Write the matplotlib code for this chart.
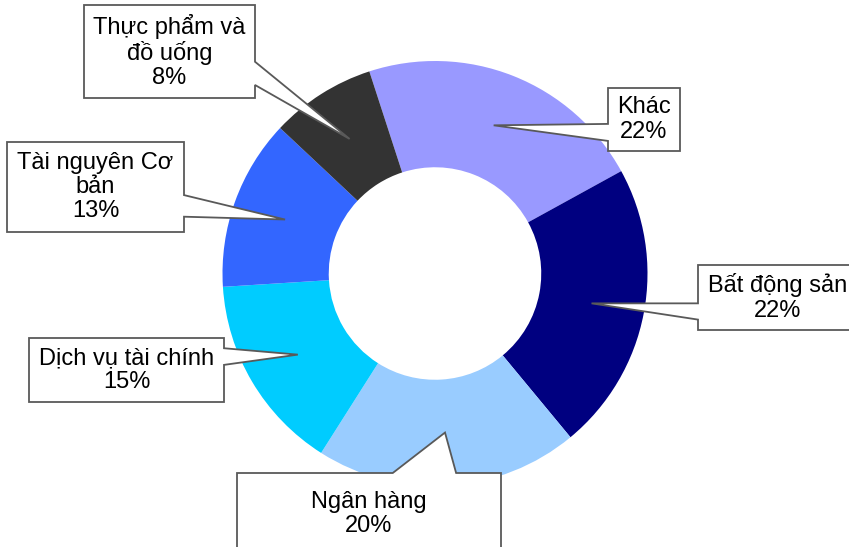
import matplotlib.pyplot as plt
import numpy as np
from matplotlib.patches import Polygon

plt.rcParams["font.family"] = ["Liberation Sans", "DejaVu Sans"]

# data
sectors = ["Khác", "Bất động sản", "Ngân hàng", "Dịch vụ tài chính",
           "Tài nguyên Cơ\nbản", "Thực phẩm và\nđồ uống"]
shares = [22, 22, 20, 15, 13, 8]
colors = ["#9999FF", "#000080", "#99CCFF", "#00CCFF", "#3366FF", "#333333"]

# layout in pixels: pie centre/radius, callout boxes (left, top, right, bottom),
# side the pointer leaves from and where along that side (fractions)
W, H = 849, 547
CX, CY, R = 435, 273.5, 212.5
boxes = [(608, 88, 680, 151), (698, 265, 856, 330), (237, 473, 501, 560),
         (29, 338, 224, 402), (7, 142, 184, 232), (84, 5, 255, 98)]
sides = ["left", "left", "top", "right", "right", "right"]
bases = [(0.57, 0.84), (0.59, 0.84), (0.59, 0.83), (0.16, 0.42), (0.59, 0.83), (0.61, 0.86)]


def px(x, y):
    return ((x - CX) / R, (CY - y) / R)


fig = plt.figure(figsize=(W / 100, H / 100), dpi=100)
ax = fig.add_axes([0, 0, 1, 1])
ax.axis("off")

wedges, _ = ax.pie(shares, colors=colors, startangle=108, counterclock=False,
                   radius=1, center=(0, 0), wedgeprops=dict(width=0.5, linewidth=0))
ax.set_xlim(-CX / R, (W - CX) / R)
ax.set_ylim(-(H - CY) / R, CY / R)

for w, name, val, box, side, (f1, f2) in zip(wedges, sectors, shares, boxes, sides, bases):
    mid = np.deg2rad((w.theta1 + w.theta2) / 2)
    tip = (0.75 * np.cos(mid), 0.75 * np.sin(mid))
    l, t, r, b = box
    if side == "right":
        pts = [px(l, t), px(r, t), px(r, t + f1 * (b - t)), tip,
               px(r, t + f2 * (b - t)), px(r, b), px(l, b)]
    elif side == "left":
        pts = [px(l, t), px(r, t), px(r, b), px(l, b),
               px(l, t + f2 * (b - t)), tip, px(l, t + f1 * (b - t))]
    else:
        pts = [px(l, t), px(l + f1 * (r - l), t), tip,
               px(l + f2 * (r - l), t), px(r, t), px(r, b), px(l, b)]
    ax.add_patch(Polygon(pts, closed=True, facecolor="white", edgecolor="#595959",
                         linewidth=1.3, zorder=3, clip_on=False))
    tx = (l + W) / 2 + 4 if r > W else (l + r) / 2
    ty = t + 41 if b > H else (t + b) / 2
    ax.text(*px(tx, ty), f"{name}\n{val}%", ha="center", va="center",
            fontsize=17, linespacing=1.12, zorder=4, color="black")

# title, almost entirely cut off at the top edge in the original
fig.text(0.64, 1.008, "Tỷ trọng danh mục theo ngành ngày", ha="center", va="baseline",
         fontsize=15, fontweight="bold", color="#17508A")

fig.savefig("out.png", dpi=100)
